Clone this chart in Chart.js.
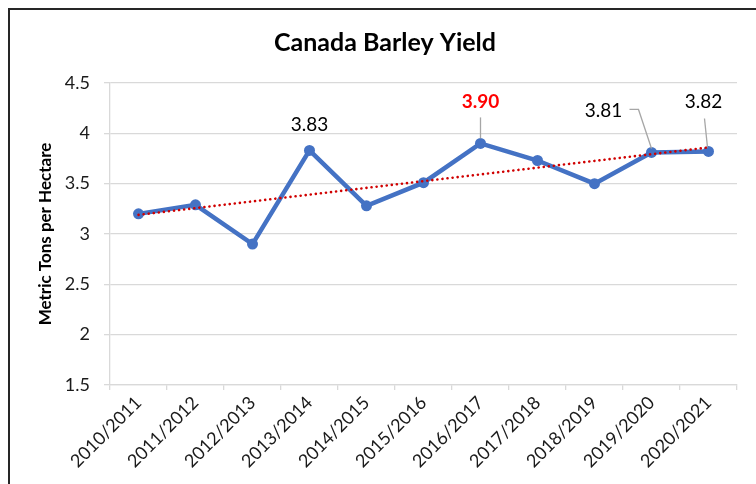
<!DOCTYPE html>
<html>
<head>
<meta charset="utf-8">
<script src="https://cdn.jsdelivr.net/npm/chart.js@4/dist/chart.umd.min.js"></script>
<style>
  html, body { margin: 0; padding: 0; background: #fff; }
  #wrap { width: 756px; height: 484px; position: relative; }
</style>
</head>
<body>
<div id="wrap"><canvas id="c" width="756" height="484"></canvas></div>
<script>
// ---- data ----
const seasons = ["2010/2011","2011/2012","2012/2013","2013/2014","2014/2015","2015/2016","2016/2017","2017/2018","2018/2019","2019/2020","2020/2021"];
const yieldValues = [3.20, 3.29, 2.90, 3.83, 3.28, 3.51, 3.90, 3.73, 3.50, 3.81, 3.82];
const trendStart = 3.19;   // trend line value at first season
const trendEnd = 3.86;     // trend line value at last season
const yTicks = [1.5, 2, 2.5, 3, 3.5, 4, 4.5];
const labelledIndices = [3, 6, 9, 10];
const chartTitle = "Canada Barley Yield";
const yAxisTitle = "Metric Tons per Hectare";

// ---- layout / style for annotations (pixels relative to point) ----
const labelStyle = {
  3:  { dx: 0,   dy: -26, color: "#000000", bold: false, leader: null },
  6:  { dx: 0,   dy: -42, color: "#FF0000", bold: true,  leader: [[0,-26],[0,-5]] },
  9:  { dx: -48, dy: -42, color: "#000000", bold: false, leader: [[-22,-43],[-13,-43],[0,-4]] },
  10: { dx: -5,  dy: -50, color: "#000000", bold: false, leader: [[-4,-33],[-1,-4]] }
};

const trendData = seasons.map((s, i) => i === 0 ? trendStart : (i === seasons.length - 1 ? trendEnd : null));

const FONT = "Lato, 'Open Sans', sans-serif";

const framePlugin = {
  id: 'frame',
  beforeDraw(chart) {
    const ctx = chart.ctx;
    ctx.save();
    ctx.fillStyle = '#ffffff';
    ctx.fillRect(0, 0, chart.width, chart.height);
    ctx.strokeStyle = '#262626';
    ctx.lineWidth = 2;
    ctx.beginPath();
    ctx.moveTo(9, chart.height + 2);
    ctx.lineTo(9, 9);
    ctx.lineTo(chart.width + 2, 9);
    ctx.stroke();
    ctx.restore();
  }
};

const labelPlugin = {
  id: 'pointLabels',
  afterDatasetsDraw(chart) {
    const ctx = chart.ctx;
    const xs = chart.scales.x, ys = chart.scales.y;
    ctx.save();
    labelledIndices.forEach(i => {
      const st = labelStyle[i];
      const px = xs.getPixelForValue(i);
      const py = ys.getPixelForValue(yieldValues[i]);
      if (st.leader) {
        ctx.strokeStyle = '#a6a6a6';
        ctx.lineWidth = 1.3;
        ctx.beginPath();
        st.leader.forEach((p, k) => {
          if (k === 0) ctx.moveTo(px + p[0], py + p[1]);
          else ctx.lineTo(px + p[0], py + p[1]);
        });
        ctx.stroke();
      }
      ctx.fillStyle = st.color;
      ctx.font = (st.bold ? 'bold ' : '') + '19px ' + FONT;
      ctx.textAlign = 'center';
      ctx.textBaseline = 'middle';
      ctx.fillText(yieldValues[i].toFixed(2), px + st.dx, py + st.dy);
    });
    ctx.restore();
  }
};

new Chart(document.getElementById('c'), {
  type: 'line',
  data: {
    labels: seasons,
    datasets: [
      {
        label: 'Trend',
        data: trendData,
        spanGaps: true,
        borderColor: '#D00000',
        borderWidth: 2.6,
        borderDash: [0.1, 5],
        borderCapStyle: 'round',
        pointRadius: 0,
        fill: false,
        order: 0
      },
      {
        label: 'Yield',
        data: yieldValues,
        borderColor: '#4472C4',
        backgroundColor: '#4472C4',
        borderWidth: 4.5,
        pointRadius: 5.5,
        pointBackgroundColor: '#4472C4',
        pointBorderColor: '#4472C4',
        pointBorderWidth: 0,
        tension: 0,
        fill: false,
        order: 1
      }
    ]
  },
  options: {
    responsive: false,
    devicePixelRatio: 1,
    animation: false,
    layout: { padding: { left: 33, right: 19, top: 0, bottom: 0 } },
    plugins: {
      legend: { display: false },
      tooltip: { enabled: false },
      title: {
        display: true,
        text: chartTitle,
        color: '#000000',
        font: { family: FONT, size: 25, weight: 'bold', lineHeight: 1.2 },
        padding: { top: 28, bottom: 25 }
      }
    },
    scales: {
      x: {
        offset: true,
        grid: {
          offset: true,
          drawOnChartArea: false,
          drawTicks: true,
          tickLength: 5,
          color: '#d9d9d9',
          lineWidth: 1.3
        },
        border: { display: true, color: '#d9d9d9', width: 1.3 },
        ticks: {
          autoSkip: false,
          minRotation: 45,
          maxRotation: 45,
          padding: 2,
          color: '#1a1a1a',
          font: { family: FONT, size: 18 }
        },
        afterFit(scale) { scale.height = 99; }
      },
      y: {
        min: 1.5,
        max: 4.5,
        afterBuildTicks(scale) { scale.ticks = yTicks.map(v => ({ value: v })); },
        grid: {
          color: '#d9d9d9',
          lineWidth: 1.3,
          drawTicks: true,
          tickLength: 6
        },
        border: { display: true, color: '#d9d9d9', width: 1.3 },
        ticks: {
          padding: 14,
          color: '#1a1a1a',
          font: { family: FONT, size: 18 },
          callback(value) { return String(value); }
        },
        title: {
          display: true,
          text: yAxisTitle,
          color: '#000000',
          font: { family: FONT, size: 17, weight: 'bold', lineHeight: 1.2 },
          padding: { top: 2, bottom: 0 }
        },
        afterFit(scale) { scale.width = 77; }
      }
    }
  },
  plugins: [framePlugin, labelPlugin]
});
</script>
</body>
</html>
